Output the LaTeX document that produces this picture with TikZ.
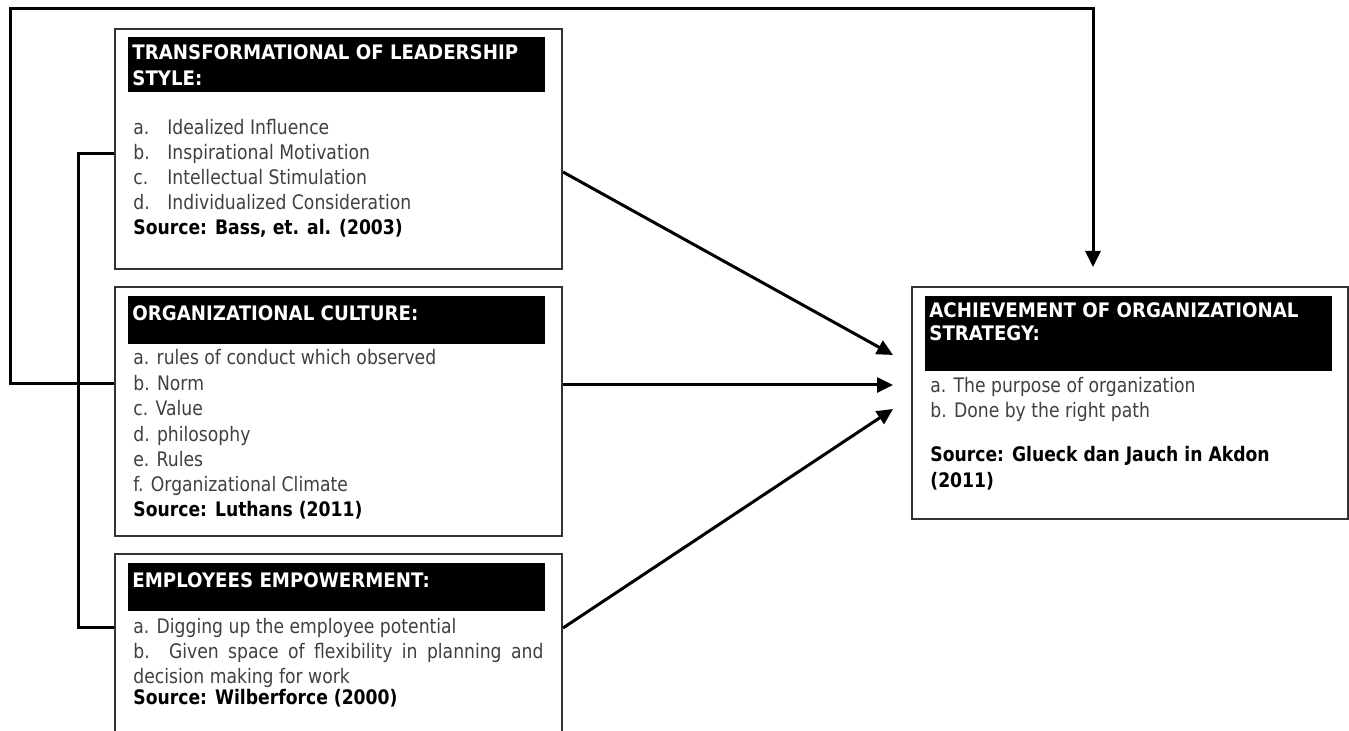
\documentclass[tikz,border=0pt]{standalone}
\usepackage{fontspec}
\setmainfont{DejaVu Sans}[FakeStretch=0.86]
\newfontfamily\headfont{DejaVu Sans}[FakeStretch=0.91]
\usepackage{xcolor}
\usepackage{tikz}
\usetikzlibrary{positioning,arrows.meta,calc}
\definecolor{itemgray}{HTML}{404040}
\definecolor{framegray}{HTML}{333333}

\begin{document}
\begin{tikzpicture}[x=0.5pt,y=-0.5pt,
  >={Triangle[length=8pt,width=7.5pt]},
  box/.style={draw=framegray,line width=1pt,anchor=north west,inner sep=0pt,minimum width=223.5pt},
  bar/.style={fill=black,anchor=north west,inner sep=0pt,minimum width=208.5pt},
  head/.style={anchor=base west,inner sep=0pt,text=white,font=\headfont\bfseries},
  itm/.style={anchor=base west,inner sep=0pt,text=itemgray},
  src/.style={anchor=base west,inner sep=0pt,font=\bfseries},
  link/.style={line width=1.5pt},
  arr/.style={->,line width=1.5pt}]

  \useasboundingbox (0,0) rectangle (1349,731);
  \clip (0,0) rectangle (1349,731);

  % frames of the four blocks
  \node[box,minimum height=120pt]   (tls) at (114,28)  {};
  \node[box,minimum height=124.5pt] (cul) at (114,286) {};
  \node[box,minimum height=103.5pt] (emp) at (114,553) {};
  \node[box,minimum width=218pt,minimum height=116pt] (aos) at (911,286) {};

  % black title bars
  \node[bar,minimum height=27.5pt] (tlsH) at (128,37)  {};
  \node[bar,minimum height=24pt]   (culH) at (128,296) {};
  \node[bar,minimum height=24pt]   (empH) at (128,563) {};
  \node[bar,minimum width=203.5pt,minimum height=37.5pt] (aosH) at (925,296) {};

  \node[head] (tlsT1) at (132,60)  {TRANSFORMATIONAL OF LEADERSHIP};
  \node[head] (tlsT2) at (132,86)  {STYLE:};
  \node[head] (culT)  at (132,321) {ORGANIZATIONAL CULTURE:};
  \node[head] (empT)  at (132,588) {EMPLOYEES EMPOWERMENT:};
  \node[head] (aosT1) at (929,318) {ACHIEVEMENT OF ORGANIZATIONAL};
  \node[head] (aosT2) at (929,341) {STRATEGY:};

  % leadership style
  \foreach \lt/\txt [count=\i] in {a./Idealized Influence,b./Inspirational Motivation,
      c./Intellectual Stimulation,d./Individualized Consideration}
    \node[itm] (tls-\i) at (133,110+25*\i) {\makebox[17pt][l]{\lt}\txt};
  \node[src] (tlsS) at (133,235) {Source: Bass, et. al. (2003)};

  % culture
  \foreach \txt [count=\i] in {a. rules of conduct which observed,b. Norm,c. Value,
      d. philosophy,e. Rules,f. Organizational Climate}
    \node[itm] (cul-\i) at (133,339.5+25.4*\i) {\txt};
  \node[src] (culS) at (133,517) {Source: Luthans (2011)};

  % empowerment
  \node[itm] (emp-1) at (133,633) {a. Digging up the employee potential};
  \node[itm] (emp-2) at (133,658) {\makebox[205pt][s]{b. Given space of flexibility in planning and}};
  \node[itm] (emp-3) at (133,683) {decision making for work};
  \node[src] (empS)  at (133,704) {Source: Wilberforce (2000)};

  % strategy
  \node[itm] (aos-1) at (930,393) {a. The purpose of organization};
  \node[itm] (aos-2) at (930,418) {b. Done by the right path};
  \node[src] (aosS)  at (930,462) {Source: Glueck dan Jauch in Akdon};
  \node[src] (aosY)  at (930,488) {(2011)};

  % connectors
  \coordinate (tip0) at (1093,267);
  \coordinate (tip1) at (893,355);
  \coordinate (tip2) at (893,385);
  \coordinate (tip3) at (893,409);
  \coordinate (loop) at (10,9);
  \coordinate (brk1) at (78,154);
  \coordinate (brk2) at (78,627);

  \draw[arr] ($(tls.north east)+(0,144)$) -- (tip1);
  \draw[arr] (cul.east |- tip2) -- (tip2);
  \draw[arr] ($(emp.north east)+(0,75)$) -- (tip3);
  \draw[arr] ($(cul.north west)+(0,98)$) -| (loop) -| (tip0);
  \draw[link] (tls.west |- brk1) -- (brk1) -- (brk2) -- (emp.west |- brk2);
\end{tikzpicture}
\end{document}
